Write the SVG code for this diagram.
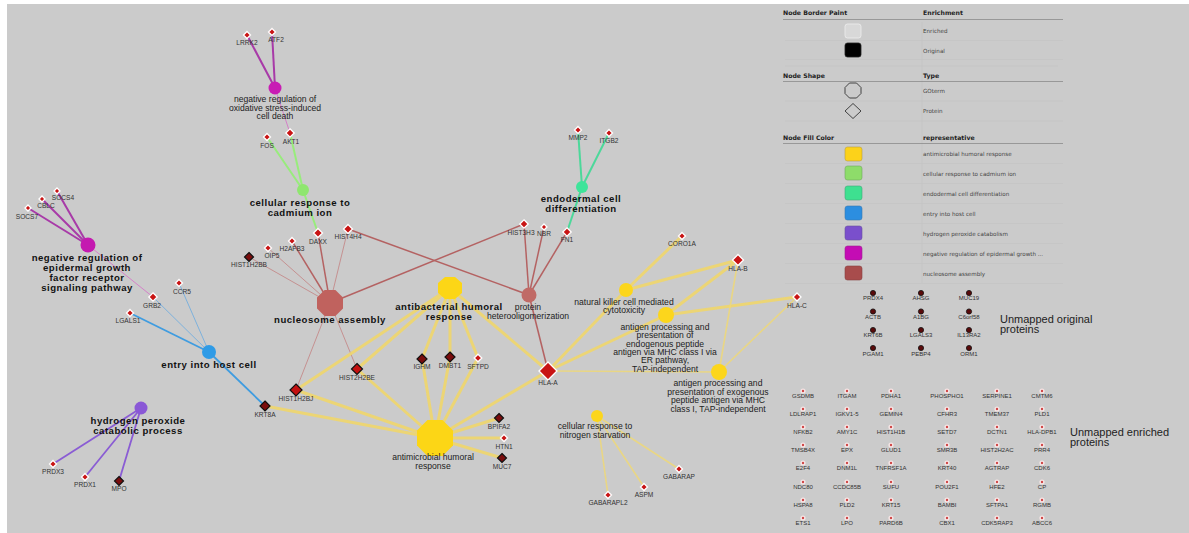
<svg xmlns="http://www.w3.org/2000/svg" width="1189" height="533" viewBox="0 0 1189 533">
<defs>
<style>
.gl{font-family:"Liberation Sans",Arial,sans-serif;font-size:8.6px;fill:#222;text-anchor:middle}
.gb{font-family:"Liberation Sans",Arial,sans-serif;font-size:9.6px;font-weight:bold;fill:#111;text-anchor:middle;letter-spacing:0.5px}
.pl{font-family:"Liberation Sans",Arial,sans-serif;font-size:6.6px;fill:#333;text-anchor:middle}
.ul{font-family:"Liberation Sans",Arial,sans-serif;font-size:6px;fill:#333;text-anchor:middle}
.big{font-family:"Liberation Sans",Arial,sans-serif;font-size:11px;fill:#222}
.lh{font-family:"DejaVu Sans",sans-serif;font-size:6.2px;font-weight:bold;fill:#222}
.lt{font-family:"DejaVu Sans",sans-serif;font-size:5.6px;fill:#444}
.ey{stroke:#efd66c;stroke-opacity:0.9;stroke-width:3;fill:none}
.eyt{stroke:#efd878;stroke-opacity:0.85;stroke-width:1.6;fill:none}
.en{stroke:#b46262;stroke-width:1.5;fill:none}
.ent{stroke:#c48a8a;stroke-width:0.9;fill:none}
.em{stroke:#a83aa8;stroke-width:2;fill:none}
.emt{stroke:#d480c8;stroke-width:1;fill:none}
.eg{stroke:#98ec7c;stroke-width:2;fill:none}
.et{stroke:#4cd89a;stroke-width:2;fill:none}
.eb{stroke:#3f9ce0;stroke-width:1.8;fill:none}
.ebt{stroke:#74aede;stroke-width:0.9;fill:none}
.ep{stroke:#8a5cd4;stroke-width:1.8;fill:none}
.pe{fill:#c81414;stroke:#fff;stroke-width:1.3}
.po{fill:#7a0d0d;stroke:#111;stroke-width:1.2}
.pr{fill:#c41010;stroke:#111;stroke-width:1.2}
.uo{fill:#5a0a0a;stroke:#111;stroke-width:0.8}
.ue{fill:#d04848;stroke:#f6e6e6;stroke-width:1.4}
.row{stroke:#c2c2c2;stroke-width:0.6}
.hdr{stroke:#8a8a8a;stroke-width:0.8}
</style>
</defs>
<rect x="0" y="0" width="1189" height="533" fill="#ffffff"/>
<rect x="7" y="4" width="1182" height="529" fill="#cbcbcb"/>

<g id="connectors">
<line class="em" x1="247" y1="35" x2="275" y2="88"/>
<line class="em" x1="272" y1="32" x2="275" y2="88"/>
<line class="emt" x1="290" y1="133" x2="275" y2="88"/>
<line class="eg" x1="267" y1="137" x2="303" y2="190"/>
<line class="eg" x1="290" y1="133" x2="303" y2="190"/>
<line class="eg" x1="318" y1="233" x2="303" y2="190"/>
<line class="et" x1="578" y1="130" x2="582" y2="187"/>
<line class="et" x1="609" y1="133" x2="582" y2="187"/>
<line class="et" x1="567" y1="232" x2="582" y2="187"/>
<line class="em" x1="57" y1="191" x2="88" y2="245"/>
<line class="em" x1="42" y1="199" x2="88" y2="245"/>
<line class="em" x1="28" y1="208" x2="88" y2="245"/>
<line class="emt" x1="153" y1="297" x2="88" y2="245"/>
<line class="ebt" x1="153" y1="297" x2="209" y2="352"/>
<line class="ebt" x1="179" y1="283" x2="209" y2="352"/>
<line class="eb" x1="130" y1="313" x2="209" y2="352"/>
<line class="eb" x1="265" y1="406" x2="209" y2="352"/>
<line class="ep" x1="53" y1="464" x2="141" y2="408"/>
<line class="ep" x1="85" y1="477" x2="141" y2="408"/>
<line class="ep" x1="119" y1="481" x2="141" y2="408"/>
<line class="ent" x1="249" y1="257" x2="330" y2="303"/>
<line class="ent" x1="268" y1="248" x2="330" y2="303"/>
<line class="en" x1="292" y1="241" x2="330" y2="303"/>
<line class="en" x1="318" y1="233" x2="330" y2="303"/>
<line class="ent" x1="348" y1="229" x2="330" y2="303"/>
<line class="en" x1="524" y1="224" x2="330" y2="303"/>
<line class="ent" x1="296" y1="390" x2="330" y2="303"/>
<line class="ent" x1="357" y1="369" x2="330" y2="303"/>
<line class="en" x1="348" y1="229" x2="529" y2="295"/>
<line class="en" x1="524" y1="224" x2="529" y2="295"/>
<line class="en" x1="544" y1="227" x2="529" y2="295"/>
<line class="en" x1="567" y1="232" x2="529" y2="295"/>
<line class="en" x1="548" y1="371" x2="529" y2="295"/>
<line class="ey" x1="450" y1="288" x2="296" y2="390"/>
<line class="ey" x1="450" y1="288" x2="357" y2="369"/>
<line class="ey" x1="450" y1="288" x2="422" y2="359"/>
<line class="ey" x1="450" y1="288" x2="450" y2="357"/>
<line class="ey" x1="450" y1="288" x2="478" y2="358"/>
<line class="ey" x1="450" y1="288" x2="548" y2="371"/>
<line class="ey" x1="435" y1="438" x2="265" y2="406"/>
<line class="ey" x1="435" y1="438" x2="296" y2="390"/>
<line class="ey" x1="435" y1="438" x2="357" y2="369"/>
<line class="ey" x1="435" y1="438" x2="422" y2="359"/>
<line class="ey" x1="435" y1="438" x2="450" y2="357"/>
<line class="ey" x1="435" y1="438" x2="478" y2="358"/>
<line class="ey" x1="435" y1="438" x2="548" y2="371"/>
<line class="ey" x1="435" y1="438" x2="499" y2="418"/>
<line class="ey" x1="435" y1="438" x2="504" y2="438"/>
<line class="ey" x1="435" y1="438" x2="502" y2="458"/>
<line class="ey" x1="626" y1="290" x2="682" y2="236"/>
<line class="ey" x1="626" y1="290" x2="738" y2="260"/>
<line class="ey" x1="626" y1="290" x2="548" y2="371"/>
<line class="ey" x1="666" y1="315" x2="738" y2="260"/>
<line class="ey" x1="666" y1="315" x2="797" y2="297"/>
<line class="ey" x1="666" y1="315" x2="548" y2="371"/>
<line class="eyt" x1="719" y1="372" x2="548" y2="371"/>
<line class="eyt" x1="719" y1="372" x2="738" y2="260"/>
<line class="eyt" x1="719" y1="372" x2="797" y2="297"/>
<line class="eyt" x1="597" y1="416" x2="679" y2="469"/>
<line class="eyt" x1="597" y1="416" x2="644" y2="487"/>
<line class="eyt" x1="597" y1="416" x2="608" y2="495"/>
</g>

<g id="go-oxidative">
<circle cx="275" cy="88" r="6.5" fill="#c81cb4"/>
<text class="gl" x="275" y="102">negative regulation of</text>
<text class="gl" x="275" y="110.5">oxidative stress-induced</text>
<text class="gl" x="275" y="119">cell death</text>
</g>
<g id="go-cadmium">
<circle cx="303" cy="190" r="6" fill="#8fe66f"/>
<text class="gb" x="300" y="205.5">cellular response to</text>
<text class="gb" x="300" y="215.5">cadmium ion</text>
</g>
<g id="go-endodermal">
<circle cx="582" cy="187" r="6" fill="#3ee49a"/>
<text class="gb" x="581" y="201.5">endodermal cell</text>
<text class="gb" x="581" y="211.5">differentiation</text>
</g>
<g id="go-egfr">
<circle cx="88" cy="245" r="7.5" fill="#c41ab0"/>
<text class="gb" x="87" y="260.5">negative regulation of</text>
<text class="gb" x="87" y="270.5">epidermal growth</text>
<text class="gb" x="87" y="280.5">factor receptor</text>
<text class="gb" x="87" y="291">signaling pathway</text>
</g>
<g id="go-entry">
<circle cx="209" cy="352" r="7" fill="#2f9be6"/>
<text class="gb" x="209" y="367.5">entry into host cell</text>
</g>
<g id="go-h2o2">
<circle cx="141" cy="408" r="6.5" fill="#8a58d6"/>
<text class="gb" x="138" y="423.5">hydrogen peroxide</text>
<text class="gb" x="138" y="433.5">catabolic process</text>
</g>
<g id="go-nucleosome">
<polygon points="335.4,290 343,297.6 343,308.4 335.4,316 324.6,316 317,308.4 317,297.6 324.6,290" fill="#c0625e"/>
<text class="gb" x="330" y="322.5">nucleosome assembly</text>
</g>
<g id="go-hetero">
<circle cx="529" cy="295" r="7.5" fill="#c06a66"/>
<text class="gl" x="528" y="310">protein</text>
<text class="gl" x="528" y="319">heterooligomerization</text>
</g>
<g id="go-antibacterial">
<polygon points="455,277 462,283 462,293 455,299 445,299 438,293 438,283 445,277" fill="#fcd616"/>
<text class="gb" x="449" y="309.5">antibacterial humoral</text>
<text class="gb" x="449" y="319.5">response</text>
</g>
<g id="go-nk">
<circle cx="626" cy="290" r="7" fill="#fcd61c"/>
<text class="gl" x="624" y="305">natural killer cell mediated</text>
<text class="gl" x="624" y="313">cytotoxicity</text>
</g>
<g id="go-endogenous">
<circle cx="666" cy="315" r="8" fill="#fcd61c"/>
<text class="gl" x="665" y="330">antigen processing and</text>
<text class="gl" x="665" y="338.3">presentation of</text>
<text class="gl" x="665" y="346.6">endogenous peptide</text>
<text class="gl" x="665" y="354.9">antigen via MHC class I via</text>
<text class="gl" x="665" y="363.2">ER pathway,</text>
<text class="gl" x="665" y="371.5">TAP-independent</text>
</g>
<g id="go-exogenous">
<circle cx="719" cy="372" r="8" fill="#fcd61c"/>
<text class="gl" x="718" y="386">antigen processing and</text>
<text class="gl" x="718" y="394.5">presentation of exogenous</text>
<text class="gl" x="718" y="403">peptide antigen via MHC</text>
<text class="gl" x="718" y="411.5">class I, TAP-independent</text>
</g>
<g id="go-antimicrobial">
<polygon points="442.5,420 453,430.5 453,445.5 442.5,456 427.5,456 417,445.5 417,430.5 427.5,420" fill="#fcd616"/>
<text class="gl" x="433" y="460">antimicrobial humoral</text>
<text class="gl" x="433" y="469">response</text>
</g>
<g id="go-nitrogen">
<circle cx="597" cy="416" r="6" fill="#fcd61c"/>
<text class="gl" x="595" y="429">cellular response to</text>
<text class="gl" x="595" y="437.5">nitrogen starvation</text>
</g>

<g id="p-LRRK2"><polygon class="pe" points="247,31.5 250.5,35 247,38.5 243.5,35"/><text class="pl" x="247" y="44.5">LRRK2</text></g>
<g id="p-ATF2"><polygon class="pe" points="272,28.5 275.5,32 272,35.5 268.5,32"/><text class="pl" x="276" y="41.5">ATF2</text></g>
<g id="p-FOS"><polygon class="pe" points="267,133.5 270.5,137 267,140.5 263.5,137"/><text class="pl" x="267" y="147.5">FOS</text></g>
<g id="p-AKT1"><polygon class="pe" points="290,128.8 294.2,133 290,137.2 285.8,133"/><text class="pl" x="291" y="143.5">AKT1</text></g>
<g id="p-SOCS4"><polygon class="pe" points="57,188 60,191 57,194 54,191"/><text class="pl" x="63" y="199.5">SOCS4</text></g>
<g id="p-CBLC"><polygon class="pe" points="42,196 45,199 42,202 39,199"/><text class="pl" x="46" y="207.5">CBLC</text></g>
<g id="p-SOCS7"><polygon class="pe" points="28,205 31,208 28,211 25,208"/><text class="pl" x="27" y="218.5">SOCS7</text></g>
<g id="p-GRB2"><polygon class="pe" points="153,292.8 157.2,297 153,301.2 148.8,297"/><text class="pl" x="152" y="307.5">GRB2</text></g>
<g id="p-CCR5"><polygon class="pe" points="179,279.5 182.5,283 179,286.5 175.5,283"/><text class="pl" x="182" y="293.5">CCR5</text></g>
<g id="p-LGALS1"><polygon class="pe" points="130,309.5 133.5,313 130,316.5 126.5,313"/><text class="pl" x="128" y="322.5">LGALS1</text></g>
<g id="p-HIST1H2BB"><polygon class="po" points="249,252.5 253.5,257 249,261.5 244.5,257"/><text class="pl" x="249" y="266.5">HIST1H2BB</text></g>
<g id="p-OIP5"><polygon class="pe" points="268,244.5 271.5,248 268,251.5 264.5,248"/><text class="pl" x="272" y="257.5">OIP5</text></g>
<g id="p-H2AFB3"><polygon class="pe" points="292,237.5 295.5,241 292,244.5 288.5,241"/><text class="pl" x="292" y="250.5">H2AFB3</text></g>
<g id="p-DAXX"><polygon class="pe" points="318,228.5 322.5,233 318,237.5 313.5,233"/><text class="pl" x="318" y="243.5">DAXX</text></g>
<g id="p-HIST4H4"><polygon class="pe" points="348,224.5 352.5,229 348,233.5 343.5,229"/><text class="pl" x="348" y="238.5">HIST4H4</text></g>
<g id="p-HIST3H3"><polygon class="pe" points="524,219.8 528.2,224 524,228.2 519.8,224"/><text class="pl" x="521" y="234.5">HIST3H3</text></g>
<g id="p-NBR"><polygon class="pe" points="544,224 547,227 544,230 541,227"/><text class="pl" x="544" y="235.5">NBR</text></g>
<g id="p-FN1"><polygon class="pe" points="567,227.8 571.2,232 567,236.2 562.8,232"/><text class="pl" x="567" y="241.5">FN1</text></g>
<g id="p-MMP2"><polygon class="pe" points="578,126.5 581.5,130 578,133.5 574.5,130"/><text class="pl" x="578" y="139.5">MMP2</text></g>
<g id="p-ITGB2"><polygon class="pe" points="609,129.5 612.5,133 609,136.5 605.5,133"/><text class="pl" x="609" y="142.5">ITGB2</text></g>
<g id="p-CORO1A"><polygon class="pe" points="682,232.5 685.5,236 682,239.5 678.5,236"/><text class="pl" x="682" y="245.5">CORO1A</text></g>
<g id="p-HLA-B"><polygon class="pe" points="738,254.5 743.5,260 738,265.5 732.5,260"/><text class="pl" x="738" y="270.5">HLA-B</text></g>
<g id="p-HLA-C"><polygon class="pe" points="797,293 801,297 797,301 793,297"/><text class="pl" x="797" y="307.5">HLA-C</text></g>
<g id="p-HIST2H2BE"><polygon class="pr" points="357,363.5 362.5,369 357,374.5 351.5,369"/><text class="pl" x="357" y="379.5">HIST2H2BE</text></g>
<g id="p-HIST1H2BJ"><polygon class="pr" points="296,384 302,390 296,396 290,390"/><text class="pl" x="296" y="400.5">HIST1H2BJ</text></g>
<g id="p-KRT8A"><polygon class="po" points="265,401 270,406 265,411 260,406"/><text class="pl" x="265" y="416.5">KRT8A</text></g>
<g id="p-IGHM"><polygon class="po" points="422,354 427,359 422,364 417,359"/><text class="pl" x="422" y="368.5">IGHM</text></g>
<g id="p-DMBT1"><polygon class="po" points="450,352 455,357 450,362 445,357"/><text class="pl" x="450" y="367.5">DMBT1</text></g>
<g id="p-SFTPD"><polygon class="pe" points="478,354.2 481.8,358 478,361.8 474.2,358"/><text class="pl" x="478" y="368.5">SFTPD</text></g>
<g id="p-HLA-A"><polygon class="pe" points="548,362 557,371 548,380 539,371"/><text class="pl" x="548" y="384.5">HLA-A</text></g>
<g id="p-BPIFA2"><polygon class="po" points="499,413.5 503.5,418 499,422.5 494.5,418"/><text class="pl" x="499" y="428.5">BPIFA2</text></g>
<g id="p-HTN1"><polygon class="pe" points="504,434.5 507.5,438 504,441.5 500.5,438"/><text class="pl" x="504" y="448.5">HTN1</text></g>
<g id="p-MUC7"><polygon class="po" points="502,453.5 506.5,458 502,462.5 497.5,458"/><text class="pl" x="502" y="468.5">MUC7</text></g>
<g id="p-PRDX3"><polygon class="pe" points="53,460.5 56.5,464 53,467.5 49.5,464"/><text class="pl" x="53" y="473.5">PRDX3</text></g>
<g id="p-PRDX1"><polygon class="pe" points="85,473.5 88.5,477 85,480.5 81.5,477"/><text class="pl" x="85" y="486.5">PRDX1</text></g>
<g id="p-MPO"><polygon class="po" points="119,476.5 123.5,481 119,485.5 114.5,481"/><text class="pl" x="119" y="490.5">MPO</text></g>
<g id="p-GABARAP"><polygon class="pe" points="679,465.5 682.5,469 679,472.5 675.5,469"/><text class="pl" x="679" y="478.5">GABARAP</text></g>
<g id="p-ASPM"><polygon class="pe" points="644,483.5 647.5,487 644,490.5 640.5,487"/><text class="pl" x="644" y="496.5">ASPM</text></g>
<g id="p-GABARAPL2"><polygon class="pe" points="608,491.5 611.5,495 608,498.5 604.5,495"/><text class="pl" x="608" y="504.5">GABARAPL2</text></g>

<g id="legend">
<line class="row" x1="922" y1="22" x2="922" y2="283"/>
<text class="lh" x="783" y="15">Node Border Paint</text>
<text class="lh" x="923" y="15">Enrichment</text>
<line class="hdr" x1="783" y1="19.5" x2="1063" y2="19.5"/>
<rect x="845" y="24" width="16" height="14" rx="2.5" fill="#d8d8d8" stroke="#efefef" stroke-width="0.8"/>
<text class="lt" x="923" y="33">Enriched</text>
<line class="row" x1="785" y1="40.5" x2="1063" y2="40.5"/>
<rect x="845" y="43" width="16" height="14" rx="2.5" fill="#000" stroke="#222" stroke-width="0.8"/>
<text class="lt" x="923" y="53">Original</text>
<line class="row" x1="785" y1="59.5" x2="1063" y2="59.5"/>
<line class="row" x1="785" y1="66" x2="1058" y2="66"/>
<text class="lh" x="783" y="77.5">Node Shape</text>
<text class="lh" x="923" y="77.5">Type</text>
<line class="hdr" x1="783" y1="81.5" x2="1063" y2="81.5"/>
<polygon points="849.5,83 856.5,83 861,87.5 861,93.5 856.5,98 849.5,98 845,93.5 845,87.5" fill="none" stroke="#333" stroke-width="0.9"/>
<text class="lt" x="923" y="93">GOterm</text>
<line class="row" x1="785" y1="101" x2="1063" y2="101"/>
<polygon points="853,103.5 861,111 853,118.5 845,111" fill="none" stroke="#333" stroke-width="0.9"/>
<text class="lt" x="923" y="113">Protein</text>
<line class="row" x1="785" y1="121" x2="1063" y2="121"/>
<text class="lh" x="783" y="139.5">Node Fill Color</text>
<text class="lh" x="923" y="139.5">representative</text>
<line class="hdr" x1="783" y1="143.5" x2="1063" y2="143.5"/>
<rect x="845" y="147" width="17" height="14" rx="2.5" fill="#fcd21a" stroke="#b8a040" stroke-width="0.6"/>
<text class="lt" x="923" y="156">antimicrobial humoral response</text>
<line class="row" x1="785" y1="163.5" x2="1063" y2="163.5"/>
<rect x="845" y="166" width="17" height="14" rx="2.5" fill="#8edc6a" stroke="#70a860" stroke-width="0.6"/>
<text class="lt" x="923" y="175.5">cellular response to cadmium ion</text>
<line class="row" x1="785" y1="183.5" x2="1063" y2="183.5"/>
<rect x="845" y="186" width="17" height="14" rx="2.5" fill="#3ee090" stroke="#40a878" stroke-width="0.6"/>
<text class="lt" x="923" y="195.5">endodermal cell differentiation</text>
<line class="row" x1="785" y1="203.5" x2="1063" y2="203.5"/>
<rect x="845" y="206" width="17" height="14" rx="2.5" fill="#2c8ee0" stroke="#3a78b0" stroke-width="0.6"/>
<text class="lt" x="923" y="215.5">entry into host cell</text>
<line class="row" x1="785" y1="223.5" x2="1063" y2="223.5"/>
<rect x="845" y="226" width="17" height="14" rx="2.5" fill="#7a4fcc" stroke="#6a50a0" stroke-width="0.6"/>
<text class="lt" x="923" y="235.5">hydrogen peroxide catabolism</text>
<line class="row" x1="785" y1="243.5" x2="1063" y2="243.5"/>
<rect x="845" y="246" width="17" height="14" rx="2.5" fill="#c40cb4" stroke="#a02090" stroke-width="0.6"/>
<text class="lt" x="923" y="255.5">negative regulation of epidermal growth ...</text>
<line class="row" x1="785" y1="263.5" x2="1063" y2="263.5"/>
<rect x="845" y="266" width="17" height="14" rx="2.5" fill="#a84c4c" stroke="#884040" stroke-width="0.6"/>
<text class="lt" x="923" y="275.5">nucleosome assembly</text>
<line class="row" x1="785" y1="283.5" x2="1063" y2="283.5"/>
</g>

<g id="unmapped-original">
<circle class="uo" cx="873" cy="293" r="2.6"/><text class="ul" x="873" y="300">PRDX4</text>
<circle class="uo" cx="921" cy="293" r="2.6"/><text class="ul" x="921" y="300">AHSG</text>
<circle class="uo" cx="969" cy="293" r="2.6"/><text class="ul" x="969" y="300">MUC19</text>
<circle class="uo" cx="873" cy="311.5" r="2.6"/><text class="ul" x="873" y="318.5">ACTB</text>
<circle class="uo" cx="921" cy="311.5" r="2.6"/><text class="ul" x="921" y="318.5">A1BG</text>
<circle class="uo" cx="969" cy="311.5" r="2.6"/><text class="ul" x="969" y="318.5">C6orf58</text>
<circle class="uo" cx="873" cy="330" r="2.6"/><text class="ul" x="873" y="337">KRT6B</text>
<circle class="uo" cx="921" cy="330" r="2.6"/><text class="ul" x="921" y="337">LGALS3</text>
<circle class="uo" cx="969" cy="330" r="2.6"/><text class="ul" x="969" y="337">IL13RA2</text>
<circle class="uo" cx="873" cy="348" r="2.6"/><text class="ul" x="873" y="356">PGAM1</text>
<circle class="uo" cx="921" cy="348" r="2.6"/><text class="ul" x="921" y="356">PEBP4</text>
<circle class="uo" cx="969" cy="348" r="2.6"/><text class="ul" x="969" y="356">ORM1</text>
<text class="big" x="1000" y="322.5">Unmapped original</text>
<text class="big" x="1000" y="333">proteins</text>
</g>

<g id="unmapped-enriched">
<g id="ue-dots">
<circle class="ue" cx="803" cy="391" r="1.9"/><circle class="ue" cx="847" cy="391" r="1.9"/><circle class="ue" cx="891" cy="391" r="1.9"/><circle class="ue" cx="947" cy="391" r="1.9"/><circle class="ue" cx="997" cy="391" r="1.9"/><circle class="ue" cx="1042" cy="391" r="1.9"/>
<circle class="ue" cx="803" cy="409" r="1.9"/><circle class="ue" cx="847" cy="409" r="1.9"/><circle class="ue" cx="891" cy="409" r="1.9"/><circle class="ue" cx="947" cy="409" r="1.9"/><circle class="ue" cx="997" cy="409" r="1.9"/><circle class="ue" cx="1042" cy="409" r="1.9"/>
<circle class="ue" cx="803" cy="427" r="1.9"/><circle class="ue" cx="847" cy="427" r="1.9"/><circle class="ue" cx="891" cy="427" r="1.9"/><circle class="ue" cx="947" cy="427" r="1.9"/><circle class="ue" cx="997" cy="427" r="1.9"/><circle class="ue" cx="1042" cy="427" r="1.9"/>
<circle class="ue" cx="803" cy="445" r="1.9"/><circle class="ue" cx="847" cy="445" r="1.9"/><circle class="ue" cx="891" cy="445" r="1.9"/><circle class="ue" cx="947" cy="445" r="1.9"/><circle class="ue" cx="997" cy="445" r="1.9"/><circle class="ue" cx="1042" cy="445" r="1.9"/>
<circle class="ue" cx="803" cy="463" r="1.9"/><circle class="ue" cx="847" cy="463" r="1.9"/><circle class="ue" cx="891" cy="463" r="1.9"/><circle class="ue" cx="947" cy="463" r="1.9"/><circle class="ue" cx="997" cy="463" r="1.9"/><circle class="ue" cx="1042" cy="463" r="1.9"/>
<circle class="ue" cx="803" cy="482" r="1.9"/><circle class="ue" cx="847" cy="482" r="1.9"/><circle class="ue" cx="891" cy="482" r="1.9"/><circle class="ue" cx="947" cy="482" r="1.9"/><circle class="ue" cx="997" cy="482" r="1.9"/><circle class="ue" cx="1042" cy="482" r="1.9"/>
<circle class="ue" cx="803" cy="500" r="1.9"/><circle class="ue" cx="847" cy="500" r="1.9"/><circle class="ue" cx="891" cy="500" r="1.9"/><circle class="ue" cx="947" cy="500" r="1.9"/><circle class="ue" cx="997" cy="500" r="1.9"/><circle class="ue" cx="1042" cy="500" r="1.9"/>
<circle class="ue" cx="803" cy="518" r="1.9"/><circle class="ue" cx="847" cy="518" r="1.9"/><circle class="ue" cx="891" cy="518" r="1.9"/><circle class="ue" cx="947" cy="518" r="1.9"/><circle class="ue" cx="997" cy="518" r="1.9"/><circle class="ue" cx="1042" cy="518" r="1.9"/>
</g>
<text class="ul" x="803" y="398">GSDMB</text><text class="ul" x="847" y="398">ITGAM</text><text class="ul" x="891" y="398">PDHA1</text><text class="ul" x="947" y="398">PHOSPHO1</text><text class="ul" x="997" y="398">SERPINE1</text><text class="ul" x="1042" y="398">CMTM6</text>
<text class="ul" x="803" y="416">LDLRAP1</text><text class="ul" x="847" y="416">IGKV1-5</text><text class="ul" x="891" y="416">GEMIN4</text><text class="ul" x="947" y="416">CFHR3</text><text class="ul" x="997" y="416">TMEM37</text><text class="ul" x="1042" y="416">PLD1</text>
<text class="ul" x="803" y="434">NFKB2</text><text class="ul" x="847" y="434">AMY1C</text><text class="ul" x="891" y="434">HIST1H1B</text><text class="ul" x="947" y="434">SETD7</text><text class="ul" x="997" y="434">DCTN1</text><text class="ul" x="1042" y="434">HLA-DPB1</text>
<text class="ul" x="803" y="452">TMSB4X</text><text class="ul" x="847" y="452">EPX</text><text class="ul" x="891" y="452">GLUD1</text><text class="ul" x="947" y="452">SMR3B</text><text class="ul" x="997" y="452">HIST2H2AC</text><text class="ul" x="1042" y="452">PRR4</text>
<text class="ul" x="803" y="470">E2F4</text><text class="ul" x="847" y="470">DNM1L</text><text class="ul" x="891" y="470">TNFRSF1A</text><text class="ul" x="947" y="470">KRT40</text><text class="ul" x="997" y="470">AGTRAP</text><text class="ul" x="1042" y="470">CDK6</text>
<text class="ul" x="803" y="489">NDC80</text><text class="ul" x="847" y="489">CCDC85B</text><text class="ul" x="891" y="489">SUFU</text><text class="ul" x="947" y="489">POU2F1</text><text class="ul" x="997" y="489">HFE2</text><text class="ul" x="1042" y="489">CP</text>
<text class="ul" x="803" y="507">HSPA8</text><text class="ul" x="847" y="507">PLD2</text><text class="ul" x="891" y="507">KRT15</text><text class="ul" x="947" y="507">BAMBI</text><text class="ul" x="997" y="507">SFTPA1</text><text class="ul" x="1042" y="507">RGMB</text>
<text class="ul" x="803" y="525">ETS1</text><text class="ul" x="847" y="525">LPO</text><text class="ul" x="891" y="525">PARD6B</text><text class="ul" x="947" y="525">CBX1</text><text class="ul" x="997" y="525">CDK5RAP3</text><text class="ul" x="1042" y="525">ABCC6</text>
<text class="big" x="1070" y="435.5">Unmapped enriched</text>
<text class="big" x="1070" y="446">proteins</text>
</g>
</svg>
